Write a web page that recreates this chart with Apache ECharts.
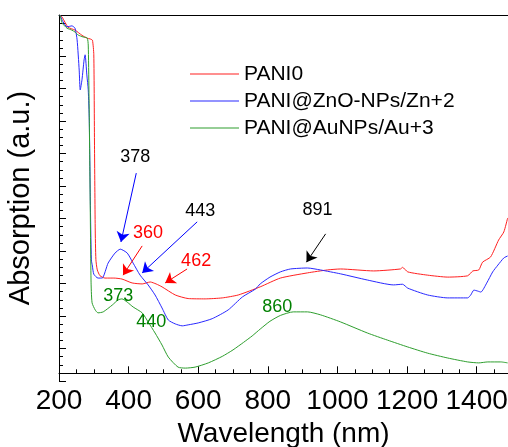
<!DOCTYPE html>
<html>
<head>
<meta charset="utf-8">
<script src="https://cdn.jsdelivr.net/npm/echarts@6/dist/echarts.min.js"></script>
<style>
  html, body { margin: 0; padding: 0; background: #fff; }
  #chart { width: 508px; height: 447px; }
</style>
</head>
<body>
<div id="chart"></div>
<script>
// UV-Vis-NIR spectra, absorption in arbitrary units
const seriesNames = ['PANI0', 'PANI@ZnO-NPs/Zn+2', 'PANI@AuNPs/Au+3'];
const xTicks = [200, 400, 600, 800, 1000, 1200, 1400];

const redNm = [203, 209, 226, 246, 266, 281, 289, 296, 300, 302, 304, 306, 310, 318, 332, 347, 358, 381, 410, 439, 462, 479, 496, 534, 571, 620, 669, 715, 778, 836, 914, 971, 1009, 1104, 1181, 1187, 1202, 1259, 1317, 1374, 1389, 1406, 1417, 1440, 1463, 1478, 1489];
const redAbs = [11.02, 10.96, 10.65, 10.56, 10.40, 10.31, 10.29, 10.25, 9.8, 7.0, 4.5, 3.5, 3.18, 3.00, 2.93, 2.93, 2.93, 2.90, 2.78, 2.75, 2.81, 2.75, 2.66, 2.41, 2.30, 2.29, 2.32, 2.41, 2.66, 2.93, 3.09, 3.18, 3.21, 3.15, 3.21, 3.26, 3.12, 3.02, 2.96, 3.00, 3.15, 3.18, 3.42, 3.58, 4.10, 4.35, 4.78];

const blueNm = [203, 212, 223, 237, 246, 252, 258, 261, 266, 272, 275, 280, 284, 287, 290, 293, 296, 300, 312, 324, 341, 361, 376, 396, 413, 433, 456, 476, 496, 514, 534, 554, 571, 600, 640, 686, 727, 764, 778, 806, 836, 865, 914, 951, 1009, 1086, 1161, 1187, 1202, 1259, 1317, 1374, 1383, 1392, 1403, 1412, 1429, 1446, 1461, 1478, 1489];
const blueAbs = [11.02, 10.81, 10.66, 10.69, 10.62, 10.26, 9.33, 8.72, 9.03, 9.64, 9.80, 9.18, 8.72, 7.79, 5.33, 3.49, 3.30, 3.05, 2.93, 2.93, 3.39, 3.70, 3.82, 3.70, 3.39, 3.02, 2.72, 2.41, 2.01, 1.64, 1.52, 1.46, 1.49, 1.55, 1.68, 1.95, 2.35, 2.59, 2.75, 2.96, 3.12, 3.21, 3.24, 3.18, 3.06, 2.87, 2.72, 2.74, 2.62, 2.41, 2.32, 2.32, 2.41, 2.56, 2.53, 2.50, 2.78, 3.12, 3.33, 3.55, 3.61];

const greenNm = [203, 209, 223, 237, 246, 255, 269, 281, 284, 286, 289, 292, 295, 304, 312, 327, 353, 370, 381, 396, 413, 439, 456, 476, 496, 514, 542, 563, 591, 629, 669, 700, 730, 755, 778, 806, 836, 873, 914, 951, 1009, 1086, 1144, 1202, 1259, 1317, 1374, 1406, 1432, 1469, 1489];
const greenAbs = [11.02, 10.78, 10.62, 10.56, 10.50, 10.41, 10.35, 10.32, 10.10, 8.72, 5.95, 2.87, 2.17, 1.95, 1.86, 1.89, 2.10, 2.26, 2.29, 2.19, 2.04, 1.86, 1.58, 1.24, 0.87, 0.50, 0.19, 0.16, 0.19, 0.32, 0.52, 0.72, 0.95, 1.15, 1.36, 1.60, 1.78, 1.89, 1.89, 1.80, 1.58, 1.24, 1.02, 0.81, 0.62, 0.47, 0.35, 0.32, 0.35, 0.35, 0.32];

// peak annotations: label position and arrow (from -> to), in data units
const redNotes = [
  { text: '360', at: [456, 4.32], from: [439, 3.92], to: [384, 3.02] },
  { text: '462', at: [594, 3.46], from: [568, 3.21], to: [505, 2.78] }
];
const blueNotes = [
  { text: '378', at: [419, 6.66], from: [422, 6.16], to: [378, 4.04], textColor: '#000' },
  { text: '443', at: [606, 4.99], from: [597, 4.66], to: [439, 3.09], textColor: '#000' },
  { text: '891', at: [943, 5.02], from: [966, 4.29], to: [911, 3.42], textColor: '#000', arrowColor: '#000' }
];
const greenNotes = [
  { text: '373', at: [370, 2.38] },
  { text: '440', at: [465, 1.58] },
  { text: '860', at: [827, 2.04] }
];

const lineColors = ['#ff2020', '#2828ff', '#2e9e2e'];
const textColors = ['#ff0000', '#0000ff', '#008000'];

function zip(xs, ys) {
  return xs.map((x, i) => [x, ys[i]]);
}

function buildSeries(name, xs, ys, idx, notes) {
  return {
    name: name,
    type: 'line',
    data: zip(xs, ys),
    symbol: 'none',
    smooth: 0.2,
    lineStyle: { color: lineColors[idx], width: 1 },
    itemStyle: { color: lineColors[idx] },
    silent: true,
    markPoint: {
      symbol: 'circle',
      symbolSize: 0,
      silent: true,
      label: {
        show: true,
        position: 'inside',
        fontFamily: 'Liberation Sans',
        fontSize: 18,
        formatter: p => p.name
      },
      data: notes.map(n => ({
        name: n.text,
        coord: n.at,
        label: { color: n.textColor || textColors[idx] }
      }))
    },
    markLine: {
      silent: true,
      symbol: ['none', 'arrow'],
      symbolSize: 10,
      label: { show: false },
      data: notes.filter(n => n.from).map(n => {
        const c = n.arrowColor || textColors[idx];
        return [
          { coord: n.from, lineStyle: { color: c, width: 1, type: 'solid' }, itemStyle: { color: c } },
          { coord: n.to, itemStyle: { color: c } }
        ];
      })
    }
  };
}

const chart = echarts.init(document.getElementById('chart'), null, { renderer: 'canvas' });

const option = {
  backgroundColor: '#fff',
  animation: false,
  textStyle: { fontFamily: 'Liberation Sans' },
  grid: { left: 59, right: 0, top: 15, bottom: 66, containLabel: false, outerBoundsMode: 'none' },
  legend: {
    orient: 'vertical',
    left: 185,
    top: 58,
    icon: 'rect',
    itemWidth: 49,
    itemHeight: 1,
    itemGap: 5,
    textStyle: { fontSize: 21, color: '#000', lineHeight: 22 },
    data: seriesNames
  },
  xAxis: [{
    type: 'value',
    min: 200,
    max: 1490,
    interval: 200,
    name: 'Wavelength (nm)',
    nameLocation: 'middle',
    nameGap: 37,
    nameTextStyle: { fontSize: 28, color: '#000' },
    axisLine: { show: true, lineStyle: { color: '#000', width: 1 } },
    axisTick: { show: true, inside: true, length: 7, lineStyle: { color: '#000' } },
    minorTick: { show: true, splitNumber: 4, length: 4, lineStyle: { color: '#000' } },
    axisLabel: {
      fontSize: 28,
      color: '#000',
      margin: 6,
      showMaxLabel: false,
      formatter: v => (xTicks.indexOf(v) >= 0 ? String(v) : '')
    },
    splitLine: { show: false }
  }, {
    type: 'value',
    position: 'top',
    min: 200,
    max: 1490,
    axisLine: { show: true, onZero: false, lineStyle: { color: '#000', width: 1 } },
    axisTick: { show: false },
    axisLabel: { show: false },
    splitLine: { show: false }
  }],
  yAxis: {
    type: 'value',
    min: -0.237,
    max: 11.025,
    interval: 1,
    name: 'Absorption (a.u.)',
    nameLocation: 'middle',
    nameGap: 24,
    nameTextStyle: { fontSize: 29, color: '#000' },
    axisLine: { show: true, onZero: false, lineStyle: { color: '#000', width: 1 } },
    axisTick: { show: true, inside: true, length: 7, lineStyle: { color: '#000' } },
    minorTick: { show: true, splitNumber: 4, length: 4, lineStyle: { color: '#000' } },
    axisLabel: { show: false },
    splitLine: { show: false }
  },
  series: [
    buildSeries(seriesNames[0], redNm, redAbs, 0, redNotes),
    buildSeries(seriesNames[1], blueNm, blueAbs, 1, blueNotes),
    buildSeries(seriesNames[2], greenNm, greenAbs, 2, greenNotes)
  ]
};

chart.setOption(option);
</script>
</body>
</html>
